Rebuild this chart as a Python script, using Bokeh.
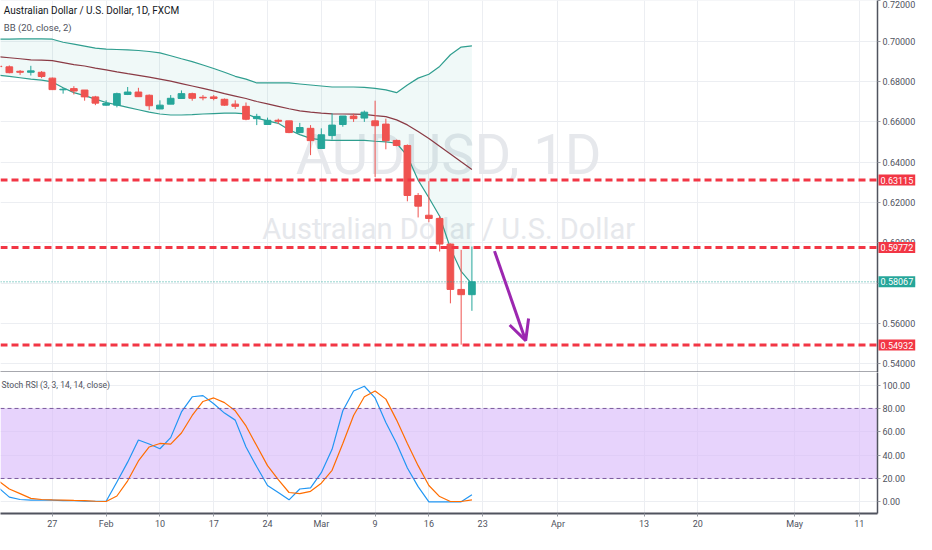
from bokeh.plotting import figure
from bokeh.models import (Range1d, FixedTicker, NumeralTickFormatter, Span, Label,
                          BoxAnnotation, Arrow, OpenHead, ColumnDataSource, GridBox)
from bokeh.embed import file_html
from bokeh.resources import INLINE

# ---------------- data ----------------
bar_idx = list(range(45))  # trading days from Jan 20, 2020

opens = [0.6876, 0.6873, 0.6851, 0.6846, 0.6846, 0.6817, 0.6759, 0.6765, 0.6758, 0.6724,
         0.6683, 0.6683, 0.6736, 0.6748, 0.6732, 0.6664, 0.6688, 0.6716, 0.6740, 0.6722,
         0.6724, 0.6712, 0.6688, 0.6677, 0.6616, 0.6587, 0.6608, 0.6605, 0.6547, 0.6568,
         0.6468, 0.6532, 0.6587, 0.6629, 0.6619, 0.6605, 0.6589, 0.6508, 0.6483, 0.6235,
         0.6137, 0.6121, 0.5994, 0.5769, 0.5743]
highs = [0.6884, 0.6880, 0.6857, 0.6878, 0.6852, 0.6820, 0.6769, 0.6777, 0.6758, 0.6729,
         0.6707, 0.6745, 0.6773, 0.6769, 0.6736, 0.6707, 0.6733, 0.6756, 0.6745, 0.6733,
         0.6733, 0.6716, 0.6707, 0.6696, 0.6640, 0.6621, 0.6616, 0.6605, 0.6595, 0.6584,
         0.6568, 0.6643, 0.6629, 0.6640, 0.6656, 0.6705, 0.6616, 0.6512, 0.6488, 0.6247,
         0.6306, 0.6134, 0.5997, 0.5965, 0.5982]
lows = [0.6865, 0.6841, 0.6833, 0.6830, 0.6817, 0.6758, 0.6740, 0.6736, 0.6705, 0.6683,
        0.6680, 0.6672, 0.6733, 0.6724, 0.6659, 0.6664, 0.6688, 0.6716, 0.6705, 0.6707,
        0.6707, 0.6680, 0.6664, 0.6608, 0.6584, 0.6587, 0.6589, 0.6544, 0.6544, 0.6435,
        0.6468, 0.6512, 0.6576, 0.6600, 0.6600, 0.6327, 0.6464, 0.6479, 0.6206, 0.6126,
        0.6102, 0.5957, 0.5700, 0.5495, 0.5663]
closes = [0.6874, 0.6844, 0.6846, 0.6853, 0.6825, 0.6760, 0.6762, 0.6753, 0.6724, 0.6693,
          0.6692, 0.6740, 0.6748, 0.6725, 0.6680, 0.6683, 0.6717, 0.6740, 0.6717, 0.6719,
          0.6716, 0.6683, 0.6677, 0.6613, 0.6627, 0.6608, 0.6603, 0.6547, 0.6572, 0.6507,
          0.6536, 0.6584, 0.6629, 0.6616, 0.6648, 0.6581, 0.6507, 0.6483, 0.6235, 0.6182,
          0.6121, 0.5994, 0.5769, 0.5743, 0.5807]

bb_upper = [0.7010, 0.7010, 0.7012, 0.7012, 0.7012, 0.7010, 0.6995, 0.6986, 0.6976, 0.6966,
            0.6961, 0.6959, 0.6957, 0.6954, 0.6949, 0.6942, 0.6928, 0.6913, 0.6899, 0.6882,
            0.6865, 0.6846, 0.6826, 0.6812, 0.6793, 0.6793, 0.6793, 0.6793, 0.6788, 0.6783,
            0.6778, 0.6773, 0.6773, 0.6773, 0.6771, 0.6766, 0.6759, 0.6745, 0.6783, 0.6817,
            0.6836, 0.6875, 0.6933, 0.6971, 0.6977]
bb_mid = [0.6923, 0.6918, 0.6913, 0.6908, 0.6906, 0.6904, 0.6894, 0.6884, 0.6877, 0.6867,
          0.6858, 0.6848, 0.6839, 0.6831, 0.6822, 0.6812, 0.6802, 0.6790, 0.6778, 0.6766,
          0.6754, 0.6740, 0.6728, 0.6716, 0.6701, 0.6689, 0.6677, 0.6665, 0.6655, 0.6648,
          0.6643, 0.6640, 0.6639, 0.6638, 0.6637, 0.6631, 0.6626, 0.6610, 0.6585, 0.6552,
          0.6518, 0.6479, 0.6441, 0.6402, 0.6364]
bb_lower = [0.6831, 0.6826, 0.6819, 0.6812, 0.6807, 0.6798, 0.6769, 0.6745, 0.6730, 0.6713,
            0.6696, 0.6684, 0.6672, 0.6660, 0.6648, 0.6639, 0.6634, 0.6634, 0.6636, 0.6639,
            0.6641, 0.6643, 0.6643, 0.6640, 0.6619, 0.6605, 0.6593, 0.6561, 0.6537, 0.6518,
            0.6511, 0.6508, 0.6508, 0.6508, 0.6508, 0.6504, 0.6501, 0.6494, 0.6431, 0.6311,
            0.6224, 0.6132, 0.5973, 0.5858, 0.5795]

stoch_k = [12, 4, 2, 1.5, 1.5, 1.5, 1, 1, 0.5, 0.5, 0.5, 17, 34, 53, 49.5, 45.5, 55, 77, 90, 91,
           84, 76, 70, 47, 30, 14, 8, 1.7, 11, 12, 25, 45, 78, 95, 99, 89, 68, 50, 29, 13,
           0, 0, 0, 0, 6]
stoch_d = [18, 11, 7, 3, 2, 1.7, 1.5, 1.2, 1, 0.5, 0.3, 5, 18, 35, 47, 50, 49.5, 59, 74, 86,
           89, 85, 78, 65, 48, 31, 19, 8, 7, 9, 16, 27, 50, 74, 90, 95, 88, 70, 50, 31,
           14, 4.5, 0.3, 0.3, 1.7]

tick_idx = [5, 10, 15, 20, 25, 30, 35, 40, 45, 52, 60, 65, 74, 80]
tick_labels = ["27", "Feb", "10", "17", "24", "Mar", "9", "16", "23", "Apr", "13", "20", "May", "11"]
price_ticks = [0.54, 0.56, 0.58, 0.60, 0.62, 0.64, 0.66, 0.68, 0.70, 0.72]
rsi_ticks = [0, 20, 40, 60, 80, 100]
rsi_band = [20, 80]
levels = [0.63115, 0.59772, 0.54932]
last_price = 0.58067
arrow_start = (46.1, 0.5959)
arrow_end = (49.0, 0.5515)

# ---------------- styling ----------------
FONT = "Roboto"
TXT = "#50535e"
GRID = "#eceef2"
RED = "#ef5350"
GREEN = "#26a69a"
LEVEL_RED = "#f23645"
x_lo, x_hi = 0.18, 81.7
p_lo, p_hi = 0.5357, 0.7202
r_lo, r_hi = -10.0, 110.8
FRAME_W = 877
RIGHT = 39
MAIN_H = 372
RSI_H = 141


def style_sep_axis(fig, color):
    fig.xaxis.ticker = FixedTicker(ticks=[])
    fig.xaxis.major_tick_line_color = None
    fig.xaxis.minor_tick_line_color = None
    fig.xaxis.major_label_standoff = 0
    fig.xaxis.axis_line_color = color
    fig.xaxis.axis_line_width = 2


p = figure(frame_width=FRAME_W, frame_height=MAIN_H, x_range=Range1d(x_lo, x_hi),
           y_range=Range1d(p_lo, p_hi), y_axis_location="right", toolbar_location=None,
           output_backend="svg", min_border_left=0, min_border_right=RIGHT, min_border_top=0,
           min_border_bottom=0)
p.outline_line_color = None
p.xgrid.ticker = FixedTicker(ticks=tick_idx)
p.grid.grid_line_color = GRID
p.yaxis.ticker = FixedTicker(ticks=price_ticks)
p.yaxis.formatter = NumeralTickFormatter(format="0.00000")
p.yaxis.major_label_text_font = FONT
p.yaxis.major_label_text_font_size = "9px"
p.yaxis.major_label_text_color = TXT
p.yaxis.axis_line_color = TXT
p.yaxis.axis_line_width = 1.5
p.yaxis.major_tick_in = 0
p.yaxis.major_tick_out = 3
p.yaxis.major_tick_line_color = "#9598a1"
p.yaxis.minor_tick_line_color = None
p.yaxis.major_label_standoff = 2
style_sep_axis(p, TXT)

# watermark
mid_x = (x_lo + x_hi) / 2 + 0.9
p.add_layout(Label(x=mid_x, y=p_lo + (p_hi - p_lo) * 0.585, text="AUDUSD, 1D", text_align="center",
                   text_baseline="middle", text_font=FONT, text_font_size="56px",
                   text_color="#e6e8ec", level="underlay"))
p.add_layout(Label(x=mid_x, y=p_lo + (p_hi - p_lo) * 0.386, text="Australian Dollar / U.S. Dollar",
                   text_align="center", text_baseline="middle", text_font=FONT,
                   text_font_size="29px", text_color="#e6e8ec", level="underlay"))

# Bollinger bands
p.varea(x=bar_idx, y1=bb_lower, y2=bb_upper, fill_color=GREEN, fill_alpha=0.07)
p.line(bar_idx, bb_upper, line_color="#2f9e8f", line_width=1.2)
p.line(bar_idx, bb_lower, line_color="#2f9e8f", line_width=1.2)
p.line(bar_idx, bb_mid, line_color="#8a3a44", line_width=1.2)

# candles
colors = [GREEN if c >= o else RED for o, c in zip(opens, closes)]
src = ColumnDataSource(dict(x=bar_idx, open=opens, high=highs, low=lows, close=closes,
                            top=[max(o, c) for o, c in zip(opens, closes)],
                            bottom=[min(o, c) for o, c in zip(opens, closes)],
                            color=colors))
p.segment(x0="x", y0="low", x1="x", y1="high", line_color="color", line_width=1, source=src)
p.vbar(x="x", width=0.62, top="top", bottom="bottom", fill_color="color", line_color="color",
       line_width=1, source=src)

# levels
for lvl in levels:
    p.add_layout(Span(location=lvl, dimension="width", line_color=LEVEL_RED, line_width=3,
                      line_dash="7 4"))
p.add_layout(Span(location=last_price, dimension="width", line_color=GREEN, line_width=1,
                  line_dash="1 2"))

# arrow
p.add_layout(Arrow(end=OpenHead(size=20, line_color="#9c27b0", line_width=3),
                   x_start=arrow_start[0], y_start=arrow_start[1],
                   x_end=arrow_end[0], y_end=arrow_end[1],
                   line_color="#9c27b0", line_width=3))

# legend texts
p.add_layout(Label(x=x_lo + 0.3, y=p_hi - (p_hi - p_lo) * 0.026,
                   text="Australian Dollar / U.S. Dollar, 1D, FXCM", text_baseline="middle",
                   text_font=FONT, text_font_size="10px", text_color="#131722"))
p.add_layout(Label(x=x_lo + 0.3, y=p_hi - (p_hi - p_lo) * 0.073, text="BB (20, close, 2)",
                   text_baseline="middle", text_font=FONT, text_font_size="9.5px",
                   text_color="#50535e"))

# ---------------- transparent overlay carrying the price-scale tags ----------------
t = figure(frame_width=FRAME_W + RIGHT, frame_height=MAIN_H,
           x_range=Range1d(x_lo, x_lo + (x_hi - x_lo) * (FRAME_W + RIGHT) / FRAME_W),
           y_range=p.y_range, y_axis_location=None, toolbar_location=None,
           output_backend="svg", min_border=0, background_fill_color=None,
           border_fill_color=None)
t.outline_line_color = None
t.grid.visible = False
style_sep_axis(t, None)
tag_vals = levels + [last_price]
tag_cols = [LEVEL_RED] * len(levels) + [GREEN]
for v, c in zip(tag_vals, tag_cols):
    t.add_layout(Label(x=x_hi, y=v, x_offset=1, text=f"{v:.5f}", text_align="left",
                       text_baseline="middle", text_font=FONT, text_font_size="9px",
                       text_color="white", background_fill_color=c, padding=2))

# ---------------- Stoch RSI panel ----------------
q = figure(frame_width=FRAME_W, frame_height=RSI_H, x_range=p.x_range,
           y_range=Range1d(r_lo, r_hi), y_axis_location="right", toolbar_location=None,
           output_backend="svg", min_border_left=0, min_border_right=RIGHT, min_border_top=0,
           min_border_bottom=0)
q.outline_line_color = None
q.grid.grid_line_color = GRID
q.xaxis.ticker = FixedTicker(ticks=tick_idx)
q.xaxis.major_label_overrides = {tk: lb for tk, lb in zip(tick_idx, tick_labels)}
q.yaxis.ticker = FixedTicker(ticks=rsi_ticks)
q.yaxis.formatter = NumeralTickFormatter(format="0.00")
for ax in (q.xaxis, q.yaxis):
    ax.major_label_text_font = FONT
    ax.major_label_text_font_size = "9px"
    ax.major_label_text_color = TXT
    ax.axis_line_color = TXT
    ax.major_tick_in = 0
    ax.major_tick_out = 3
    ax.major_tick_line_color = "#9598a1"
    ax.minor_tick_line_color = None
    ax.major_label_standoff = 2
q.xaxis.axis_line_width = 2
q.yaxis.axis_line_width = 1.5

q.add_layout(BoxAnnotation(bottom=rsi_band[0], top=rsi_band[1], fill_color="#d9b8fa",
                           fill_alpha=0.62, line_color=None, level="underlay"))
for b in rsi_band:
    q.add_layout(Span(location=b, dimension="width", line_color="#7b5a9e", line_width=1,
                      line_dash="4 3"))
q.line(bar_idx, stoch_k, line_color="#2196f3", line_width=1.2)
q.line(bar_idx, stoch_d, line_color="#ff6d00", line_width=1.2)
q.add_layout(Label(x=x_lo + 0.1, y=r_hi - (r_hi - r_lo) * 0.09,
                   text="Stoch RSI (3, 3, 14, 14, close)", text_baseline="middle",
                   text_font=FONT, text_font_size="8.5px", text_color="#50535e"))

layout = GridBox(children=[(p, 0, 0), (t, 0, 0), (q, 1, 0)], spacing=0)
open("out.html", "w").write(file_html(layout, INLINE))
